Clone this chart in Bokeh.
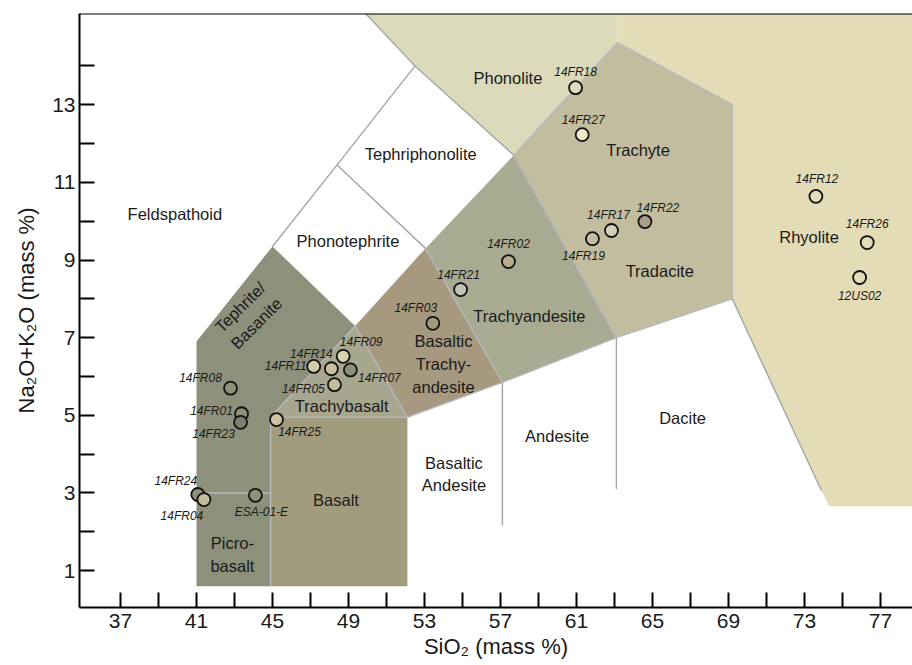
from bokeh.plotting import figure
from bokeh.models import ColumnDataSource, FixedTicker, Span
from bokeh.core.properties import value
from bokeh.embed import file_html
from bokeh.resources import INLINE

# ---------------- data ----------------
samples = ["14FR18", "14FR27", "14FR12", "14FR26", "12US02", "14FR22", "14FR17", "14FR19",
           "14FR02", "14FR21", "14FR03", "14FR09", "14FR14", "14FR11", "14FR07", "14FR05",
           "14FR08", "14FR01", "14FR23", "14FR25", "14FR24", "14FR04", "ESA-01-E"]
sio2 = [60.95, 61.30, 73.60, 76.30, 75.90, 64.60, 62.84, 61.84,
        57.42, 54.90, 53.44, 48.72, 48.10, 47.17, 49.10, 48.26,
        42.79, 43.37, 43.32, 45.21, 41.07, 41.39, 44.10]
alkali = [13.44, 12.23, 10.64, 9.45, 8.55, 9.99, 9.76, 9.55,
          8.96, 8.24, 7.37, 6.52, 6.20, 6.26, 6.17, 5.79,
          5.70, 5.04, 4.82, 4.89, 2.96, 2.83, 2.94]

# field polygons (SiO2, Na2O+K2O)
teph_x = [41, 41, 45, 49.35, 45, 44.9, 44.9]
teph_y = [0.6, 6.9, 9.35, 7.3, 5.0, 4.95, 0.6]
tbas_x = [45, 49.35, 52.1, 44.9]
tbas_y = [5.0, 7.3, 4.95, 4.95]
bas_x = [44.9, 44.9, 52.1, 52.1]
bas_y = [0.6, 4.95, 4.95, 0.6]
bta_x = [52.1, 49.35, 53.05, 57.1]
bta_y = [4.95, 7.3, 9.3, 5.85]
ta_x = [57.1, 53.05, 57.7, 63.1]
ta_y = [5.85, 9.3, 11.7, 7.0]
tr_x = [63.1, 57.7, 63.15, 69.2, 69.2]
tr_y = [7.0, 11.7, 14.6, 13.0, 8.0]
ph_x = [49.8, 52.5, 57.7, 63.15, 63.15]
ph_y = [15.4, 14.0, 11.7, 14.6, 15.4]
rh_x = [63.15, 63.15, 69.2, 69.2, 73.9, 74.3, 79.5, 79.5]
rh_y = [15.4, 14.6, 13.0, 8.0, 3.05, 2.66, 2.66, 15.4]

# field boundary lines
grey_xs = [[45, 48.4, 52.5, 49.8], [48.4, 53.05], [52.5, 57.7], [57.1, 57.1], [63.1, 63.1],
           [69.2, 73.9]]
grey_ys = [[9.35, 11.45, 14.0, 15.4], [11.45, 9.3], [14.0, 11.7], [5.85, 2.16], [7.0, 3.1],
           [8.0, 3.05]]
light_xs = [[45, 49.35, 52.1], [44.9, 52.1], [44.9, 44.9], [41, 44.9],
            [52.1, 57.1, 63.1, 69.2], [57.1, 53.05], [63.1, 57.7], [57.7, 63.15],
            [63.15, 69.2, 69.2]]
light_ys = [[5.0, 7.3, 4.95], [4.95, 4.95], [0.6, 4.95], [3, 3],
            [4.95, 5.85, 7.0, 8.0], [5.85, 9.3], [7.0, 11.7], [11.7, 14.6],
            [14.6, 13.0, 8.0]]

field_names = ["Feldspathoid", "Tephriphonolite", "Phonotephrite", "Phonolite", "Trachyte",
               "Tradacite", "Rhyolite", "Trachyandesite", "Basaltic\nTrachy-\nandesite",
               "Tephrite/\nBasanite", "Trachybasalt", "Basalt", "Picro-\nbasalt",
               "Basaltic\nAndesite", "Andesite", "Dacite"]
field_x = [39.86, 52.8, 48.97, 57.39, 64.24, 65.38, 73.24, 58.52, 54.0,
           43.72, 48.64, 48.34, 42.89, 54.55, 59.98, 66.58]
field_y = [10.19, 11.72, 9.49, 13.69, 11.84, 8.73, 9.59, 7.55, 6.33,
           7.58, 5.23, 2.83, 1.41, 3.49, 4.46, 4.93]

x_major = [37, 41, 45, 49, 53, 57, 61, 65, 69, 73, 77]
x_minor = [39, 43, 47, 51, 55, 59, 63, 67, 71, 75]
y_major = [1, 3, 5, 7, 9, 11, 13]
y_minor = [2, 4, 6, 8, 10, 12, 14]

# ---------------- styles ----------------
field_angle = [0, 0, 0, 0, 0, 0, 0, 0, 0, 0.785, 0, 0, 0, 0, 0, 0]
marker_fill = ["#dcdcbc", "#efe8c4", "#e4dcb8", "#e4dcb8", "#e4dcb8", "#a8a088", "#cfd0bc",
               "#c4bea0", "#b8ac8c", "#c0c4b8", "#a59a80", "#d8d2ae", "#c8c09c", "#d4cca8",
               "#8c8f7a", "#c4bc9c", "#8d917a", "#8d917a", "#7c806c", "#d0c4a0", "#8d917a",
               "#c4bc9c", "#8d917a"]
# label offsets in screen px (right, up)
lab_dx = [0, 1, 1, 0, 0, 13, -3, -9, 0, -2, -17, 18, -20, -28, 29, -31, -30, -30, -27, 23, -22, -22, 6]
lab_dy = [16, 15, 17, 19, -18, 14, 16, -17, 18, 15, 15, 14, 15, 0, -8, -4, 10, 3, -12, -12, 14, -16, -17]

FONT = "Liberation Sans"

p = figure(width=912, height=665, x_range=(34.842, 78.684), y_range=(0.05, 15.35),
           output_backend="svg", toolbar_location=None,
           min_border_left=79, min_border_top=13, min_border_bottom=58, min_border_right=0)
p.outline_line_color = None
p.xgrid.visible = False
p.ygrid.visible = False
p.background_fill_color = "white"

# fields
p.patches(xs=[teph_x, tbas_x, bas_x, bta_x, ta_x, tr_x, ph_x, rh_x],
          ys=[teph_y, tbas_y, bas_y, bta_y, ta_y, tr_y, ph_y, rh_y],
          fill_color=["#8d917b", "#a7a78f", "#a29c7e", "#a6997f", "#a9aa92", "#c3bd9f",
                      "#dbdabb", "#e3dcb7"],
          line_color=None)

p.multi_line(xs=light_xs, ys=light_ys, line_color="#b6b9bd", line_width=1.4)
p.multi_line(xs=grey_xs, ys=grey_ys, line_color="#a4a6a8", line_width=1.4)

# field labels
fsrc = ColumnDataSource(dict(x=field_x, y=field_y, text=field_names, angle=field_angle))
p.text(x="x", y="y", text="text", angle="angle", source=fsrc,
       text_font=value(FONT), text_font_size="16.5px", text_color="#1a1a1a",
       text_align="center", text_baseline="middle", text_line_height=1.27)

# samples
ssrc = ColumnDataSource(dict(x=sio2, y=alkali, name=samples, fill=marker_fill,
                             dx=lab_dx, dy=[-d for d in lab_dy]))
p.scatter(x="x", y="y", source=ssrc, marker="circle", size=13,
          fill_color="fill", line_color="#111111", line_width=1.8)
p.text(x="x", y="y", text="name", x_offset="dx", y_offset="dy", source=ssrc,
       text_font=value(FONT), text_font_style="italic", text_font_size="12px",
       text_color="#1a1a1a", text_align="center", text_baseline="middle")

# axes
for ax, maj, mnr in ((p.xaxis[0], x_major, x_minor), (p.yaxis[0], y_major, y_minor)):
    ax.ticker = FixedTicker(ticks=maj, minor_ticks=mnr)
    ax.axis_line_width = 2
    ax.axis_line_color = "black"
    ax.major_tick_in = 15
    ax.major_tick_out = 0
    ax.minor_tick_in = 15
    ax.minor_tick_out = 0
    ax.major_tick_line_width = 2
    ax.minor_tick_line_width = 2
    ax.major_tick_line_color = "black"
    ax.minor_tick_line_color = "black"
    ax.major_label_text_font = FONT
    ax.major_label_text_font_size = "21px"
    ax.major_label_text_color = "#1a1a1a"
    ax.axis_label_text_font = FONT
    ax.axis_label_text_font_size = "22px"
    ax.axis_label_text_font_style = "normal"
    ax.axis_label_text_color = "#1a1a1a"

p.xaxis.major_label_standoff = 6
p.yaxis.major_label_standoff = 4
p.xaxis.axis_label = "SiO₂ (mass %)"
p.xaxis.axis_label_standoff = 3
p.yaxis.axis_label = "Na₂O+K₂O (mass %)"
p.yaxis.axis_label_standoff = 10

p.add_layout(Span(location=15.35, dimension="width", line_color="black", line_width=2))

open("out.html", "w").write(file_html(p, INLINE))
